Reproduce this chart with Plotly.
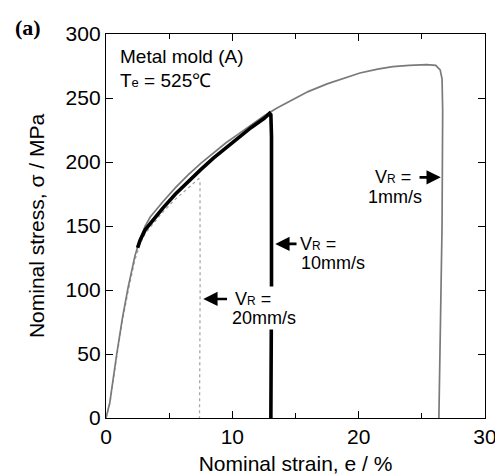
import plotly.graph_objects as go

# ---- data ----
strain_1mm = [0, 0.3, 0.85, 1.3, 1.75, 2.3, 2.7, 3.1, 3.5, 4.5, 5.5, 6.5, 7.5, 8.5, 9.5, 10.5,
              11.5, 12.5, 13.5, 14.8, 16.0, 17.5, 19.0, 20.1, 21.5, 22.7, 24.0, 25.4,
              26.1, 26.45, 26.6, 26.65, 26.6, 26.45, 26.35]
stress_1mm = [0, 12, 50, 78, 102, 127, 140, 150, 157, 169, 180, 190, 199, 207, 215, 222,
              229, 236, 242, 249, 255, 261, 266, 269.5, 272.5, 274.5, 275.5, 276,
              275.5, 272, 265, 240, 150, 60, 0]

strain_10mm = [2.5, 2.7, 3.1, 3.5, 4.5, 5.5, 6.5, 7.5, 8.5, 9.5,
               10.5, 11.5, 12.5, 12.95, 13.05, 13.1, 13.1, 13.05]
stress_10mm = [133, 139, 147, 152, 164, 175, 185, 194, 203, 211,
               219, 227, 234, 238, 237, 220, 100, 0]

strain_20mm = [0, 0.3, 0.85, 1.3, 1.75, 2.3, 2.7, 3.1, 3.5, 4.5, 5.5, 6.5, 7.35, 7.44, 7.45, 7.4]
stress_20mm = [0, 11, 48, 76, 99, 124, 136, 144, 149, 161, 171, 180, 187, 185, 100, 0]

x_ticks = [0, 10, 20, 30]
y_ticks = [0, 50, 100, 150, 200, 250, 300]

FONT = "Liberation Sans, Arial, sans-serif"
VR = 'V<span style="font-size:12px">R</span> ='

fig = go.Figure()
fig.add_trace(go.Scatter(x=strain_20mm, y=stress_20mm, mode="lines",
                         line=dict(color="#a8a8a8", width=1.3, dash="dot"),
                         showlegend=False))
fig.add_trace(go.Scatter(x=strain_1mm, y=stress_1mm, mode="lines",
                         line=dict(color="#7a7a7a", width=1.7),
                         showlegend=False))
fig.add_trace(go.Scatter(x=strain_10mm, y=stress_10mm, mode="lines",
                         line=dict(color="black", width=3.6),
                         showlegend=False))

ann_font = dict(family=FONT, size=18, color="black")
annotations = [
    dict(x=-0.206, y=1.016, xref="paper", yref="paper", text="<b>(a)</b>",
         xanchor="center", yanchor="middle", showarrow=False,
         font=dict(family="Liberation Serif, Times New Roman, serif", size=22, color="black")),
    dict(x=0.95, y=282.5, text="Metal mold (A)", xanchor="left", showarrow=False,
         font=dict(family=FONT, size=19, color="black")),
    dict(x=0.95, y=264, text='T<span style="font-size:13px">e</span> = 525℃',
         xanchor="left", showarrow=False, font=dict(family=FONT, size=19, color="black")),
    # 1 mm/s
    dict(x=24.3, y=188, text=VR, xanchor="right", showarrow=False, font=ann_font),
    dict(x=22.84, y=172.7, text="1mm/s", xanchor="center", showarrow=False, font=ann_font),
    dict(x=26.5, y=188, ax=24.7, ay=188, axref="x", ayref="y", text="", showarrow=True,
         arrowhead=2, arrowsize=1.1, arrowwidth=2.6, arrowcolor="black"),
    # 10 mm/s
    dict(x=15.2, y=136, text=VR, xanchor="left", showarrow=False, font=ann_font),
    dict(x=15.25, y=121, text="10mm/s", xanchor="left", showarrow=False, font=ann_font),
    dict(x=13.4, y=136, ax=15.2, ay=136, axref="x", ayref="y", text="", showarrow=True,
         arrowhead=2, arrowsize=1.1, arrowwidth=2.6, arrowcolor="black"),
    # 20 mm/s
    dict(x=9.95, y=93, text=VR, xanchor="left", showarrow=False, font=ann_font,
         bgcolor="white", width=50, align="left", borderpad=2),
    dict(x=9.8, y=78, text="20mm/s", xanchor="left", showarrow=False, font=ann_font,
         bgcolor="white", borderpad=1),
    dict(x=7.7, y=93, ax=9.7, ay=93, axref="x", ayref="y", text="", showarrow=True,
         arrowhead=2, arrowsize=1.1, arrowwidth=2.6, arrowcolor="black"),
]

# the page body has an 8px default margin, so the figure is sized/placed to compensate
fig.update_layout(
    width=495, height=467,
    margin=dict(l=98, r=18, t=26, b=57),
    paper_bgcolor="white", plot_bgcolor="white",
    font=dict(family=FONT, color="black"),
    annotations=annotations,
)
fig.update_xaxes(
    range=[0, 30], tickvals=x_ticks, ticktext=[str(v) for v in x_ticks],
    ticks="inside", ticklen=7, tickwidth=1.2, tickcolor="black",
    minor=dict(dtick=5, tick0=0, ticks="inside", ticklen=5, tickwidth=1.1, tickcolor="black"),
    showline=True, linecolor="black", linewidth=1.3, mirror="ticks",
    showgrid=False, zeroline=False, automargin=False,
    tickfont=dict(family=FONT, size=21, color="black"),
    title=dict(text="Nominal strain, e / %", font=dict(family=FONT, size=21, color="black")),
)
fig.update_yaxes(
    range=[0, 300], tickvals=y_ticks, ticktext=[str(v) for v in y_ticks],
    ticks="inside", ticklen=7, tickwidth=1.2, tickcolor="black",
    showline=True, linecolor="black", linewidth=1.3, mirror="ticks",
    showgrid=False, zeroline=False, automargin=False,
    tickfont=dict(family=FONT, size=21, color="black"),
    title=dict(text="Nominal stress, σ / MPa", font=dict(family=FONT, size=21, color="black")),
)

fig.write_html("out.html")
